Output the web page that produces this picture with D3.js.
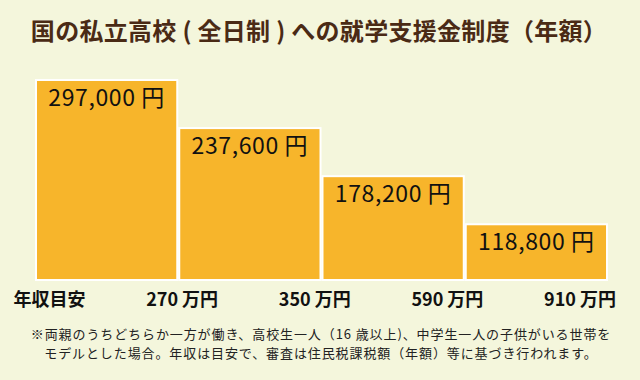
<!DOCTYPE html>
<html>
<head>
<meta charset="utf-8">
<script src="https://cdn.jsdelivr.net/npm/d3@7"></script>
<style>
  html, body { margin: 0; padding: 0; background: #f4f6dc; }
  svg { display: block; }
  text { font-family: "Noto Sans CJK JP", "Noto Sans", sans-serif; }
</style>
</head>
<body>
<svg id="chart" width="640" height="380"></svg>
<script>
// ---- data ----
const categories = ["270万円未満", "350万円未満", "590万円未満", "910万円未満"];
const amounts = [297000, 237600, 178200, 118800];
const barLabels = ["297,000 円", "237,600 円", "178,200 円", "118,800 円"];
const axisLabels = ["年収目安", "270 万円", "350 万円", "590 万円", "910 万円"];
const title = "国の私立高校 ( 全日制 ) への就学支援金制度（年額）";
const notes = [
  "※両親のうちどちらか一方が働き、高校生一人（16 歳以上)、中学生一人の子供がいる世帯を",
  "モデルとした場合。年収は目安で、審査は住民税課税額（年額）等に基づき行われます。"
];

const svg = d3.select("#chart");
const W = 640, H = 380;

svg.append("rect").attr("width", W).attr("height", H).attr("fill", "#f4f6dc");

// title
svg.append("text")
  .attr("x", 319).attr("y", 40)
  .attr("text-anchor", "middle")
  .attr("font-size", 24)
  .attr("letter-spacing", 0.3)
  .attr("font-weight", "bold")
  .attr("fill", "#4a2a15")
  .text(title);

// scales
const x = d3.scaleBand().domain(categories).range([35, 608]).padding(0);
const y = d3.scaleLinear().domain([47500, 297000]).range([281, 79]);

const bars = svg.append("g");
bars.selectAll("rect")
  .data(categories)
  .join("rect")
  .attr("x", d => x(d) + 1)
  .attr("y", (d, i) => y(amounts[i]) + 1)
  .attr("width", x.bandwidth() - 2)
  .attr("height", (d, i) => y.range()[0] - y(amounts[i]) - 2)
  .attr("fill", "#f7b52b")
  .attr("stroke", "#ffffff")
  .attr("stroke-width", 2);

bars.selectAll("text")
  .data(categories)
  .join("text")
  .attr("x", d => x(d) + x.bandwidth() / 2)
  .attr("y", (d, i) => y(amounts[i]) + 27)
  .attr("text-anchor", "middle")
  .attr("font-size", 23)
  .attr("letter-spacing", 0.6)
  .attr("fill", "#111")
  .text((d, i) => barLabels[i]);

// axis labels
const xl = d3.scalePoint().domain(axisLabels).range([49.5, 580]);
svg.append("g").selectAll("text")
  .data(axisLabels)
  .join("text")
  .attr("x", d => xl(d))
  .attr("y", 306)
  .attr("text-anchor", "middle")
  .attr("font-size", 18)
  .attr("font-weight", "bold")
  .attr("fill", "#111")
  .text(d => d);

// notes
svg.append("g").selectAll("text")
  .data(notes)
  .join("text")
  .attr("x", 321)
  .attr("y", (d, i) => 339 + i * 19)
  .attr("text-anchor", "middle")
  .attr("font-size", 13)
  .attr("letter-spacing", 0.9)
  .attr("fill", "#222")
  .text(d => d);
</script>
</body>
</html>
